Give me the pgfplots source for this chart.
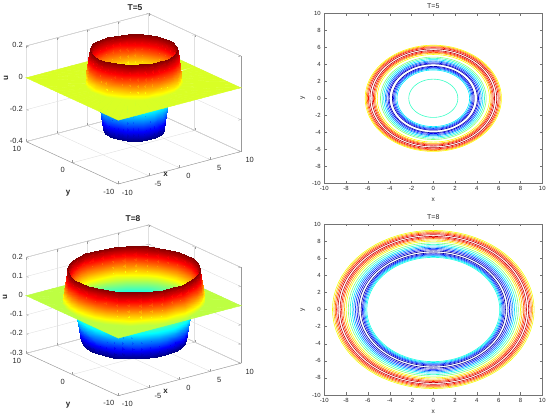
\documentclass[border=0pt]{standalone}
\usepackage{fontspec}
\setmainfont{Liberation Sans}
\usepackage{pgfplots}
\usepackage{pgfplotstable}
\pgfplotsset{compat=1.18}
\pgfplotsset{/pgf/number format/assume math mode=true}

% radial profiles u(r)
\pgfplotstableread{
r u
0 -0.060
1.0 -0.062
1.6 -0.066
2.0 -0.072
2.25 -0.080
2.7 -0.095
3.0 -0.105
3.33 -0.120
3.45 -0.160
3.55 -0.200
3.65 -0.240
3.75 -0.280
3.9 -0.300
4.05 -0.280
4.15 -0.240
4.28 -0.200
4.4 -0.160
4.55 -0.120
4.7 -0.080
4.85 -0.040
5.0 0.000
}\negA
\pgfplotstableread{
r u
5.0 0.000
5.15 0.020
5.3 0.060
5.4 0.100
5.5 0.140
5.62 0.180
5.72 0.210
5.82 0.180
5.95 0.140
6.05 0.100
6.15 0.060
6.25 0.020
6.35 0.000
}\posA
\pgfplotstableread{
r u
0 -0.050
2.0 -0.050
4.0 -0.051
5.0 -0.052
5.6 -0.054
5.9 -0.056
6.1 -0.060
6.2 -0.080
6.3 -0.110
6.4 -0.140
6.5 -0.170
6.62 -0.200
6.74 -0.210
6.85 -0.200
7.0 -0.170
7.15 -0.140
7.3 -0.110
7.45 -0.080
7.62 -0.050
7.8 -0.020
7.9 0.000
}\negB
\pgfplotstableread{
r u
7.9 0.000
8.0 0.020
8.15 0.050
8.3 0.080
8.42 0.110
8.55 0.140
8.65 0.165
8.75 0.140
8.88 0.110
9.0 0.080
9.12 0.050
9.25 0.020
9.35 0.000
}\posB

% sweep a radial profile over angles 0,10,...,360
\newcommand\polartable[3]{%
  \pgfplotstablegetrowsof{#1}%
  \xdef#3{\pgfplotsretval}%
  \pgfmathtruncatemacro\nrows{37*#3}%
  \pgfplotstablenew[
    create on use/a/.style={create col/expr={10*floor(\pgfplotstablerow/#3)}},
    create on use/r/.style={create col/assign/.code={%
        \pgfmathtruncatemacro\kk{mod(\pgfplotstablerow,#3)}%
        \pgfplotstablegetelem{\kk}{r}\of#1%
        \pgfkeyslet{/pgfplots/table/create col/next content}\pgfplotsretval}},
    create on use/u/.style={create col/assign/.code={%
        \pgfmathtruncatemacro\kk{mod(\pgfplotstablerow,#3)}%
        \pgfplotstablegetelem{\kk}{u}\of#1%
        \pgfkeyslet{/pgfplots/table/create col/next content}\pgfplotsretval}},
    columns={a,r,u}]{\nrows}#2%
}
\polartable{\negA}{\negAtab}{\negAn}
\polartable{\posA}{\posAtab}{\posAn}
\polartable{\negB}{\negBtab}{\negBn}
\polartable{\posB}{\posBtab}{\posBn}

\pgfplotstablenew[
  create on use/pa/.style={create col/expr={5*floor(\pgfplotstablerow/2)}},
  create on use/pf/.style={create col/expr={mod(\pgfplotstablerow,2)}},
  create on use/pz/.style={create col/expr={0}},
  columns={pa,pf,pz}]{146}\planetab
\pgfplotstablenew[
  create on use/ang/.style={create col/expr={5*\pgfplotstablerow}},
  create on use/zz/.style={create col/expr={0}},
  columns={ang,zz}]{73}\angtab

\newcommand\surfpart[2]{%
  \addplot3[surf, shader=interp, z buffer=sort, mesh/cols=#2]
    table[x expr={\thisrow{r}*cos(\thisrow{a})}, y expr={\thisrow{r}*sin(\thisrow{a})}, z=u] {#1};}
\newcommand\planepart[1]{%
  \addplot3[surf, shader=flat, point meta=0, mesh/cols=2]
    table[x expr={((1-\thisrow{pf})*#1+\thisrow{pf}*10/max(abs(cos(\thisrow{pa})),abs(sin(\thisrow{pa}))))*cos(\thisrow{pa})},
          y expr={((1-\thisrow{pf})*#1+\thisrow{pf}*10/max(abs(cos(\thisrow{pa})),abs(sin(\thisrow{pa}))))*sin(\thisrow{pa})},
          z=pz] {\planetab};}
% contour ring: radius, colour position on the jet map (0..1000)
\newcommand\ring[2]{%
  \addplot[color of colormap={#2 of jet}, line width=0.6bp, line join=round]
    table[x expr={#1*cos(\thisrow{ang})}, y expr={#1*sin(\thisrow{ang})}] {\angtab};}

\pgfplotsset{
  threed/.style={
    anchor=origin,
    x={(6.12bp,1.62bp)}, y={(-4.6bp,2.12bp)},
    xmin=-10, xmax=10, ymin=-10, ymax=10,
    xtick={-10,-5,0,5,10}, ytick={-10,0,10},
    grid=major, major grid style={black!12, line width=0.4bp},
    axis line style={black!40, line width=0.4bp},
    tick style={black!40}, major tick length=2.5bp,
    tick label style={font=\fontsize{7.5}{8}\selectfont, text=black!85},
    xticklabel style={anchor=center, xshift=9bp, yshift=-8.5bp},
    yticklabel style={anchor=center, xshift=-9.5bp, yshift=-7.5bp},
    colormap/jet, scaled ticks=false, clip=false,
  },
  flat/.style={
    anchor=south west, scale only axis, width=218bp,
    xmin=-10, xmax=10, ymin=-10, ymax=10,
    xtick distance=2, ytick distance=2,
    tick label style={font=\fontsize{6}{7}\selectfont, text=black!85},
    label style={font=\fontsize{6.5}{7}\selectfont, text=black!85},
    title style={font=\fontsize{7}{8}\selectfont, text=black!85, yshift=-5bp},
    axis line style={black!55}, tick style={black!55}, major tick length=2.5bp,
    tick align=inside, tick pos=both,
    colormap/jet, xlabel={x}, ylabel={y},
  },
}

\begin{document}
\begin{tikzpicture}
\path[use as bounding box] (0,0) rectangle (550bp,418bp);

% ---------- T=5, surface ----------
\begin{axis}[threed, at={(133.5bp,335.2bp)}, z={(0bp,159.5bp)},
  zmin=-0.4, zmax=0.2, ztick={-0.4,-0.2,0,0.2},
  point meta min=-0.3, point meta max=0.21]
\surfpart{\negAtab}{\negAn}
\planepart{6.3}
\surfpart{\posAtab}{\posAn}
\end{axis}

% ---------- T=8, surface ----------
\begin{axis}[threed, at={(133.5bp,117.3bp)}, z={(0bp,192bp)},
  zmin=-0.3, zmax=0.2, ztick={-0.3,-0.2,-0.1,0,0.1,0.2},
  point meta min=-0.21, point meta max=0.165]
\surfpart{\negBtab}{\negBn}
\planepart{9.3}
\surfpart{\posBtab}{\posBn}
\end{axis}

% ---------- T=5, contours (levels -0.28 ... 0.18 on [-0.3,0.21]) ----------
\begin{axis}[flat, at={(324.3bp,234.7bp)}, height=170bp, title={T=5}]
\ring{6.25}{627}\ring{6.15}{706}\ring{6.05}{784}\ring{5.95}{863}\ring{5.82}{941}
\ring{5.62}{941}\ring{5.5}{863}\ring{5.4}{784}\ring{5.3}{706}\ring{5.15}{627}
\ring{4.85}{510}\ring{4.7}{431}\ring{4.55}{353}\ring{4.4}{275}\ring{4.28}{196}
\ring{4.15}{118}\ring{4.05}{39}
\ring{3.75}{39}\ring{3.65}{118}\ring{3.55}{196}\ring{3.45}{275}\ring{3.33}{353}
\ring{2.25}{431}
\end{axis}

% ---------- T=8, contours (levels -0.20 ... 0.14 on [-0.21,0.165]) ----------
\begin{axis}[flat, at={(324.3bp,23bp)}, height=171bp, title={T=8}]
\ring{9.25}{613}\ring{9.12}{693}\ring{9.0}{773}\ring{8.88}{853}\ring{8.75}{933}
\ring{8.55}{933}\ring{8.42}{853}\ring{8.3}{773}\ring{8.15}{693}\ring{8.0}{613}
\ring{7.8}{507}\ring{7.62}{427}\ring{7.45}{347}\ring{7.3}{267}\ring{7.15}{187}
\ring{7.0}{107}\ring{6.85}{27}
\ring{6.62}{27}\ring{6.5}{107}\ring{6.4}{187}\ring{6.3}{267}\ring{6.2}{347}
\ring{6.1}{400}
\end{axis}

% ---------- titles and labels of the surface plots ----------
\begin{scope}[every node/.style={font=\bfseries\fontsize{8}{9}\selectfont, text=black!85, inner sep=0pt}]
\node[font=\bfseries\fontsize{8.5}{9}\selectfont] at (135bp,410.5bp) {T=5};
\node[rotate=90] at (6bp,339.7bp) {u};
\node at (68bp,225bp) {y};
\node at (165.5bp,244bp) {x};
\node[font=\bfseries\fontsize{8.5}{9}\selectfont] at (133bp,199bp) {T=8};
\node[rotate=90] at (5bp,121bp) {u};
\node at (68bp,12.3bp) {y};
\node at (165.7bp,26.5bp) {x};
\end{scope}
\end{tikzpicture}
\end{document}
